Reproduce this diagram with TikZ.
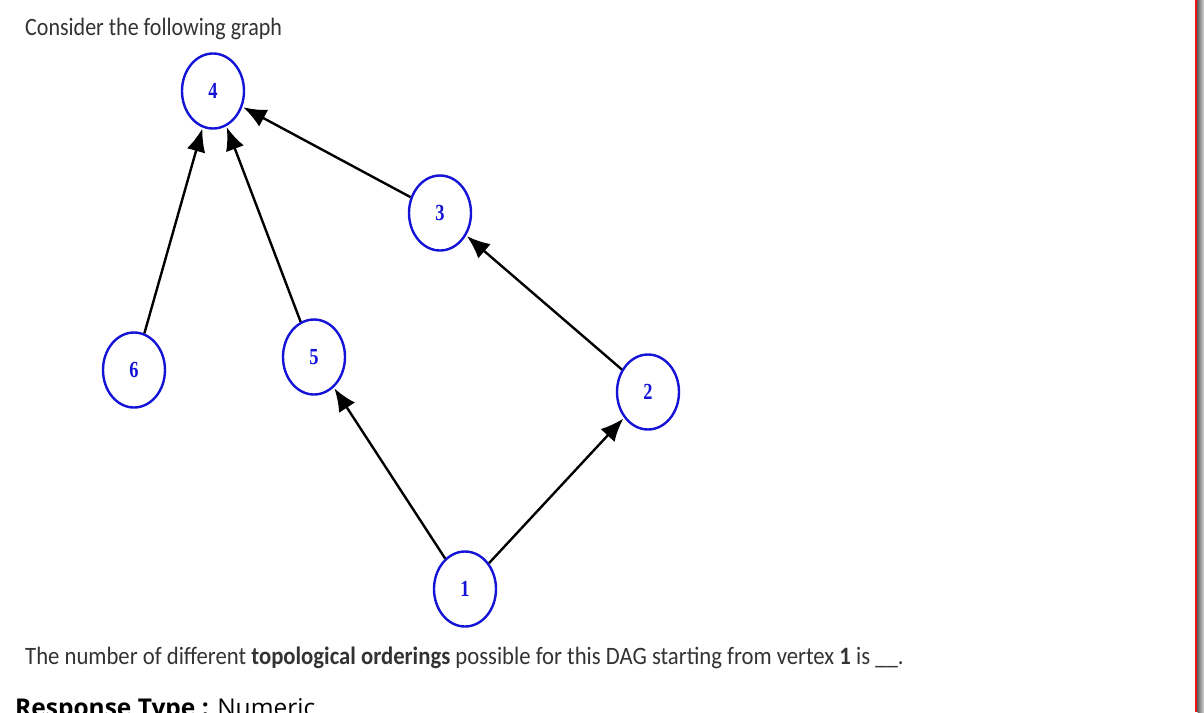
\documentclass[tikz,border=0pt]{standalone}
\usepackage{fontspec}
\setmainfont{Liberation Serif}
\newfontfamily\qfont{Carlito}
\newfontfamily\rfont{Open Sans}
\usepackage{tikz}
\usetikzlibrary{positioning,arrows.meta,shapes.geometric}
\definecolor{vblue}{RGB}{20,20,215}
\definecolor{frame}{RGB}{235,20,20}
\newcommand{\vlab}[1]{\scalebox{0.8}[1]{#1}}
\tikzstyle{vert} = [draw=vblue, ellipse, line width=2.4pt, minimum width=62pt, minimum height=75pt, inner sep=0pt, text=vblue, font=\bfseries\fontsize{23}{23}\selectfont]
\tikzstyle{to} = [-{Latex[length=23pt,width=19pt]}, line width=2.4pt, shorten >=1pt]
\tikzstyle{txt} = [anchor=base west, inner sep=0pt, text=black!80, font=\qfont\fontsize{25}{25}\selectfont]

\begin{document}
\begin{tikzpicture}[x=1pt, y=-1pt]
		\useasboundingbox (0,0) rectangle (1204,712);
		\clip (0,0) rectangle (1204,712);
		\fill[white] (0,0) rectangle (1204,712);
		% question text
		\node (intro) [txt] at (25,35) {\scalebox{0.88}[1]{Consider the following graph}};
		\node (quest) [txt] at (25,664) {\scalebox{0.908}[1]{The number of different \textbf{topological orderings} possible for this DAG starting from vertex \textbf{1} is \_\_.}};
		\node (resp) [anchor=base west, inner sep=0pt, font=\rfont\fontsize{24.5}{24.5}\selectfont] at (15,716) {\textbf{Response Type :} Numeric};
		% vertices
		\node (v4) [vert] at (213,91) {\vlab{4}};
		\node (v3) [vert] at (440,213) {\vlab{3}};
		\node (v6) [vert] at (134,370) {\vlab{6}};
		\node (v5) [vert] at (314,357) {\vlab{5}};
		\node (v2) [vert] at (648,392) {\vlab{2}};
		\node (v1) [vert] at (465,589) {\vlab{1}};
		% edges
		\draw[to] (v6) -- (v4);
		\draw[to] (v5) -- (v4);
		\draw[to] (v3) -- (v4);
		\draw[to] (v2) -- (v3);
		\draw[to] (v1) -- (v5);
		\draw[to] (v1) -- (v2);
		% page edge
		\fill[frame] (1194.5,0) rectangle (1197.5,712);
		\fill[left color=black!60, right color=black!15] (1197.5,0) rectangle (1204,712);
\end{tikzpicture}
\end{document}
